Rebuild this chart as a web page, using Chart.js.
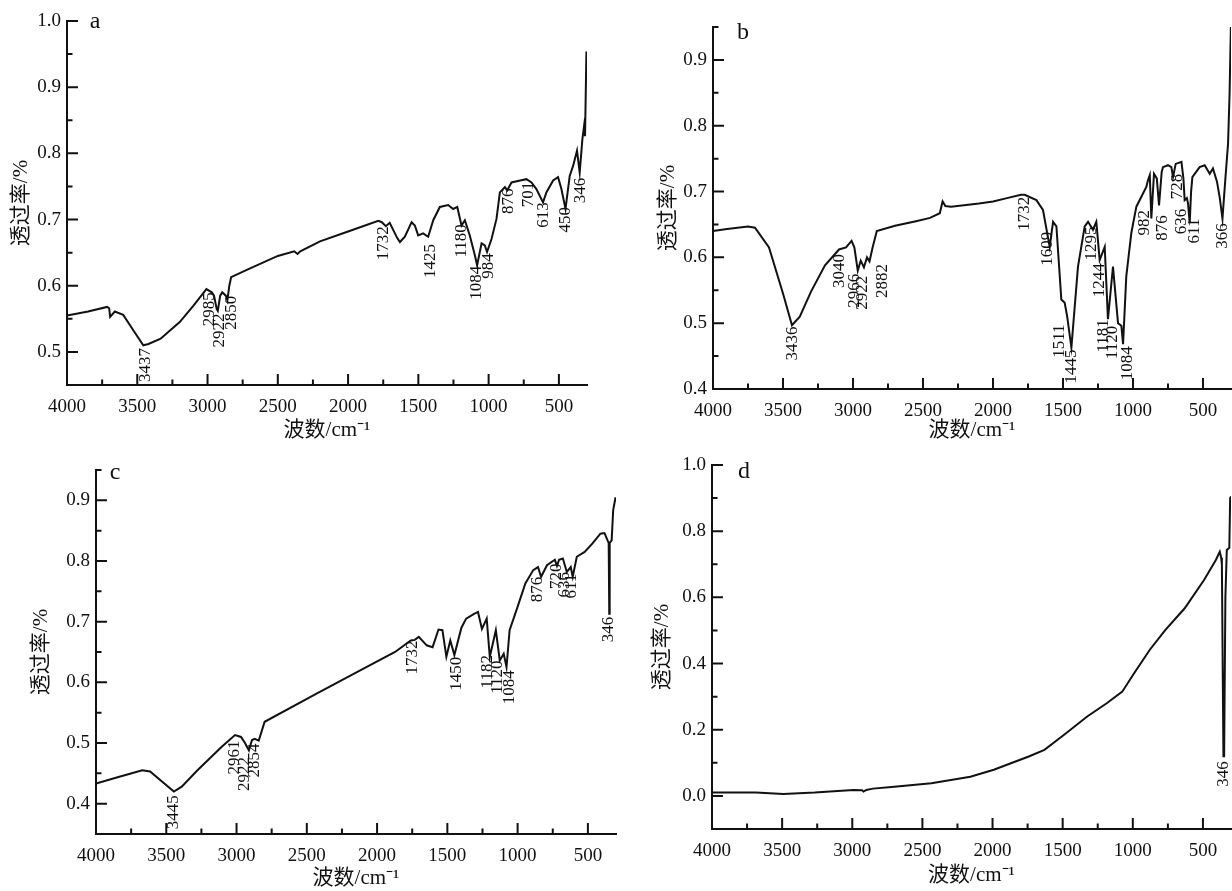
<!DOCTYPE html>
<html>
<head>
<meta charset="utf-8">
<script src="https://cdn.jsdelivr.net/npm/chart.js@4.4.1/dist/chart.umd.min.js"></script>
<style>
  body { margin: 0; background: #fff; width: 1232px; height: 891px; overflow: hidden; position: relative; }
  canvas { position: absolute; }
</style>
</head>
<body>
<canvas id="ca" width="600" height="445" style="left:0;top:0"></canvas>
<canvas id="cb" width="612" height="445" style="left:620px;top:0"></canvas>
<canvas id="cc" width="620" height="446" style="left:0;top:445px"></canvas>
<canvas id="cd" width="612" height="446" style="left:620px;top:445px"></canvas>
<script>
// wavenumber ticks shared by all four panels
const xMajor = [4000, 3500, 3000, 2500, 2000, 1500, 1000, 500];
const xMinor = [3750, 3250, 2750, 2250, 1750, 1250, 750];

// panel a
const aWn = [4000,3850,3715,3700,3693,3660,3600,3520,3457,3420,3334,3198,3100,3008,2970,2954,2935,2927,2910,2895,2870,2859,2845,2832,2709,2500,2383,2360,2340,2200,2000,1785,1760,1731,1704,1650,1631,1596,1548,1525,1501,1466,1430,1394,1347,1288,1252,1223,1193,1169,1134,1098,1082,1050,1027,1011,979,944,920,884,868,837,776,731,695,660,613,589,541,506,482,453,423,399,371,352,333,321,314,304];
const aT = [0.555,0.561,0.568,0.566,0.553,0.561,0.556,0.53,0.51,0.512,0.52,0.545,0.57,0.595,0.59,0.585,0.565,0.562,0.585,0.59,0.585,0.578,0.6,0.613,0.625,0.645,0.652,0.648,0.652,0.667,0.682,0.698,0.696,0.69,0.695,0.672,0.666,0.674,0.696,0.691,0.676,0.679,0.674,0.699,0.719,0.722,0.716,0.719,0.691,0.699,0.676,0.646,0.631,0.664,0.661,0.651,0.671,0.701,0.741,0.749,0.744,0.756,0.759,0.761,0.756,0.746,0.726,0.741,0.759,0.764,0.746,0.716,0.766,0.781,0.804,0.771,0.821,0.841,0.826,0.954];
const aYMajor = [0.5, 0.6, 0.7, 0.8, 0.9, 1.0];
const aYMinor = [0.55, 0.65, 0.75, 0.85, 0.95];
const aPeakText = ['3437','2985','2922','2850','1732','1425','1180','1084','984','876','701','613','450','346'];
const aPeakX = [3443,2986,2913,2831,1750,1415,1190,1085,1000,855,716,612,455,346];
const aPeakY = [0.506,0.59,0.558,0.585,0.69,0.663,0.693,0.63,0.649,0.747,0.757,0.726,0.719,0.763];

// panel b
const bWn = [4000,3900,3750,3700,3600,3500,3436,3380,3300,3200,3100,3050,3010,2990,2966,2945,2922,2900,2882,2860,2830,2700,2550,2450,2380,2360,2340,2300,2100,2000,1900,1800,1774,1690,1643,1595,1571,1547,1512,1488,1470,1440,1393,1345,1321,1286,1262,1238,1202,1179,1143,1107,1083,1071,1048,1012,976,905,893,880,869,850,830,814,795,786,750,726,714,695,654,640,631,615,607,595,585,576,524,488,452,429,400,380,361,340,321,310,300];
const bT = [0.640,0.643,0.647,0.645,0.615,0.545,0.497,0.51,0.548,0.588,0.612,0.615,0.625,0.615,0.58,0.595,0.585,0.6,0.594,0.615,0.64,0.648,0.655,0.66,0.667,0.685,0.678,0.677,0.682,0.685,0.69,0.695,0.695,0.687,0.672,0.616,0.654,0.647,0.536,0.531,0.51,0.463,0.586,0.647,0.654,0.642,0.654,0.596,0.616,0.506,0.586,0.50,0.496,0.468,0.571,0.637,0.677,0.707,0.717,0.725,0.659,0.727,0.72,0.679,0.73,0.737,0.74,0.737,0.722,0.742,0.745,0.72,0.687,0.69,0.682,0.652,0.70,0.722,0.737,0.74,0.727,0.735,0.715,0.69,0.659,0.72,0.773,0.85,0.96];
const bYMajor = [0.4, 0.5, 0.6, 0.7, 0.8, 0.9];
const bYMinor = [0.45, 0.55, 0.65, 0.75, 0.85, 0.95];
const bPeakText = ['3436','3040','2966','2922','2882','1732','1609','1511','1445','1295','1244','1181','1120','1084','982','876','728','636','611','366'];
const bPeakX = [3429,3095,2990,2935,2790,1774,1607,1524,1440,1297,1238,1214,1143,1036,917,790,679,655,559,357];
const bPeakY = [0.495,0.605,0.575,0.572,0.59,0.692,0.639,0.498,0.46,0.647,0.591,0.506,0.496,0.465,0.672,0.664,0.727,0.674,0.659,0.652];

// panel c
const cWn = [4000,3840,3671,3615,3446,3390,3278,3109,3011,2968,2940,2912,2890,2870,2842,2800,2434,2100,1872,1760,1732,1703,1647,1605,1563,1535,1507,1479,1450,1400,1366,1310,1282,1254,1220,1198,1155,1127,1099,1079,1057,1001,945,889,855,833,791,735,720,705,678,650,622,608,579,523,467,411,382,360,352,348,345,331,320,303];
const cT = [0.433,0.444,0.455,0.453,0.420,0.428,0.455,0.493,0.513,0.51,0.50,0.488,0.505,0.507,0.504,0.535,0.581,0.622,0.65,0.669,0.67,0.675,0.661,0.658,0.687,0.686,0.642,0.669,0.645,0.69,0.705,0.713,0.716,0.688,0.705,0.642,0.686,0.636,0.647,0.625,0.686,0.724,0.763,0.785,0.79,0.774,0.793,0.802,0.792,0.802,0.804,0.782,0.79,0.774,0.807,0.815,0.829,0.845,0.846,0.834,0.83,0.713,0.83,0.834,0.884,0.905];
const cYMajor = [0.4, 0.5, 0.6, 0.7, 0.8, 0.9];
const cYMinor = [0.45, 0.55, 0.65, 0.75, 0.85, 0.95];
const cPeakText = ['3445','2961','2922','2854','1732','1450','1182','1120','1084','876','720','636','611','346'];
const cPeakX = [3446,3011,2940,2870,1746,1436,1211,1141,1057,860,725,669,613,354];
const cPeakY = [0.414,0.504,0.477,0.499,0.669,0.642,0.645,0.636,0.62,0.774,0.796,0.782,0.779,0.708];

// panel d
const dWn = [4000,3686,3492,3269,2992,2930,2920,2900,2853,2700,2436,2158,1991,1742,1630,1492,1325,1186,1075,992,880,769,630,491,408,380,370,365,354,349,340,330,312,306,300];
const dT = [0.010,0.010,0.006,0.010,0.018,0.017,0.013,0.018,0.022,0.028,0.038,0.058,0.079,0.119,0.139,0.184,0.24,0.28,0.315,0.37,0.441,0.501,0.567,0.653,0.713,0.738,0.72,0.70,0.12,0.12,0.60,0.743,0.75,0.9,0.905];
const dYMajor = [0.0, 0.2, 0.4, 0.6, 0.8, 1.0];
const dYMinor = [-0.1, 0.1, 0.3, 0.5, 0.7, 0.9];
const dPeakText = ['346'];
const dPeakX = [356];
const dPeakY = [0.105];

const FONT = '"Liberation Serif", "Noto Sans CJK SC", serif';
const INK = '#111';

// inward tick marks, peak labels and the panel letter
function panelPlugin(p) {
  return {
    id: 'panelDeco',
    afterDatasetsDraw(chart) {
      const { ctx, chartArea: ca, scales: { x, y } } = chart;
      ctx.save();
      ctx.strokeStyle = INK;
      ctx.lineWidth = 2;
      ctx.beginPath();
      p.yMajor.forEach(v => { const py = y.getPixelForValue(v); ctx.moveTo(ca.left, py); ctx.lineTo(ca.left + 11, py); });
      p.yMinor.forEach(v => { const py = y.getPixelForValue(v); ctx.moveTo(ca.left, py); ctx.lineTo(ca.left + 5.5, py); });
      xMajor.forEach(v => { const px = x.getPixelForValue(v); ctx.moveTo(px, ca.bottom); ctx.lineTo(px, ca.bottom - 11); });
      xMinor.forEach(v => { const px = x.getPixelForValue(v); ctx.moveTo(px, ca.bottom); ctx.lineTo(px, ca.bottom - 5.5); });
      ctx.stroke();

      ctx.fillStyle = INK;
      ctx.font = '17px ' + FONT;
      ctx.textAlign = 'right';
      ctx.textBaseline = 'middle';
      p.peakText.forEach((t, i) => {
        ctx.save();
        ctx.translate(x.getPixelForValue(p.peakX[i]), y.getPixelForValue(p.peakY[i]));
        ctx.rotate(-Math.PI / 2);
        ctx.fillText(t, 0, 0);
        ctx.restore();
      });

      ctx.font = '24px ' + FONT;
      ctx.textAlign = 'center';
      ctx.fillText(p.letter, p.letterX, p.letterY);
      ctx.restore();
    }
  };
}

function makePanel(id, p) {
  new Chart(document.getElementById(id), {
    type: 'line',
    data: {
      datasets: [{
        data: p.wn.map((w, i) => ({ x: w, y: p.t[i] })),
        borderColor: INK,
        borderWidth: 2,
        pointRadius: 0,
        tension: 0,
        fill: false
      }]
    },
    options: {
      responsive: false,
      animation: false,
      layout: { padding: { top: p.padTop, right: p.padRight, left: 0, bottom: 0 } },
      plugins: { legend: { display: false }, tooltip: { enabled: false } },
      scales: {
        x: {
          type: 'linear',
          reverse: true,
          min: 300,
          max: 4000,
          afterBuildTicks: s => { s.ticks = xMajor.map(v => ({ value: v })); },
          afterFit: s => { s.height = p.xH; },
          grid: { display: false, drawTicks: false },
          border: { display: true, color: INK, width: 2 },
          ticks: { color: INK, font: { family: FONT, size: 19 }, padding: 11, maxRotation: 0, autoSkip: false, callback: v => String(v) },
          title: { display: true, text: '波数/cm⁻¹', color: INK, font: { family: FONT, size: 21 }, padding: { top: 0, bottom: p.xTitlePad } }
        },
        y: {
          min: p.yMin,
          max: p.yMax,
          afterBuildTicks: s => { s.ticks = p.yMajor.map(v => ({ value: v })); },
          afterFit: s => { s.width = p.yW; },
          grid: { display: false, drawTicks: false },
          border: { display: true, color: INK, width: 2 },
          ticks: { color: INK, font: { family: FONT, size: 19 }, padding: 6, callback: v => v.toFixed(1) },
          title: { display: true, text: '透过率/%', color: INK, font: { family: FONT, size: 21 }, padding: { top: p.yTitlePad, bottom: 0 } }
        }
      }
    },
    plugins: [panelPlugin(p)]
  });
}

makePanel('ca', {
  wn: aWn, t: aT, yMin: 0.45, yMax: 1.0, yMajor: aYMajor, yMinor: aYMinor,
  peakText: aPeakText, peakX: aPeakX, peakY: aPeakY,
  padTop: 21, padRight: 13, yW: 67, xH: 60, xTitlePad: 2, yTitlePad: 9,
  letter: 'a', letterX: 95, letterY: 22
});
makePanel('cb', {
  wn: bWn, t: bT, yMin: 0.4, yMax: 0.95, yMajor: bYMajor, yMinor: bYMinor,
  peakText: bPeakText, peakX: bPeakX, peakY: bPeakY,
  padTop: 27, padRight: 1, yW: 93, xH: 56, xTitlePad: 2, yTitlePad: 36,
  letter: 'b', letterX: 123, letterY: 33
});
makePanel('cc', {
  wn: cWn, t: cT, yMin: 0.35, yMax: 0.95, yMajor: cYMajor, yMinor: cYMinor,
  peakText: cPeakText, peakX: cPeakX, peakY: cPeakY,
  padTop: 25, padRight: 4, yW: 96, xH: 57, xTitlePad: 0, yTitlePad: 29,
  letter: 'c', letterX: 115, letterY: 28
});
makePanel('cd', {
  wn: dWn, t: dT, yMin: -0.1, yMax: 1.0, yMajor: dYMajor, yMinor: dYMinor,
  peakText: dPeakText, peakX: dPeakX, peakY: dPeakY,
  padTop: 20, padRight: 1, yW: 92, xH: 62, xTitlePad: 3, yTitlePad: 30,
  letter: 'd', letterX: 124, letterY: 27
});
</script>
</body>
</html>
